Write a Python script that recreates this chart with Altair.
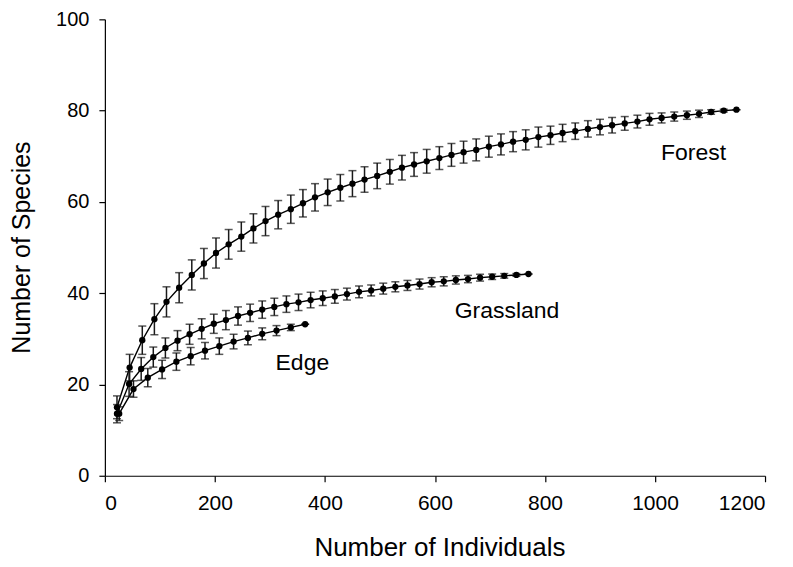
import altair as alt
import pandas as pd

# ---- data ----
forest_n = [22, 45, 68, 90, 112, 135, 158, 180, 202, 225, 248, 270, 292, 315, 338, 360, 382,
            405, 428, 450, 472, 495, 518, 540, 562, 585, 608, 630, 652, 675, 698, 720, 742,
            765, 788, 810, 832, 855, 878, 900, 922, 945, 968, 990, 1012, 1035, 1058, 1080,
            1102, 1125, 1148]
forest_s = [15.0, 23.7, 29.7, 34.3, 38.1, 41.2, 44.0, 46.5, 48.8, 50.7, 52.4, 54.2, 55.8, 57.2,
            58.4, 59.7, 61.0, 62.1, 63.1, 64.0, 64.9, 65.7, 66.6, 67.5, 68.2, 68.9, 69.6, 70.3,
            70.9, 71.4, 72.1, 72.6, 73.2, 73.6, 74.2, 74.6, 75.1, 75.5, 76.0, 76.4, 76.8, 77.2,
            77.6, 78.1, 78.4, 78.7, 79.0, 79.3, 79.7, 80.0, 80.2]
forest_e = [2.5, 2.9, 3.1, 3.4, 3.3, 3.3, 3.3, 3.3, 3.3, 3.25, 3.2, 3.2, 3.2, 3.1, 3.1, 3.0, 3.0,
            2.9, 2.9, 2.85, 2.8, 2.8, 2.7, 2.7, 2.6, 2.6, 2.5, 2.5, 2.4, 2.4, 2.3, 2.3, 2.2, 2.2,
            2.2, 2.0, 1.9, 1.8, 1.8, 1.7, 1.7, 1.5, 1.4, 1.3, 1.1, 1.0, 0.9, 0.8, 0.5, 0.3, 0.0]

grass_n = [22, 44, 66, 88, 110, 132, 154, 176, 198, 220, 242, 264, 286, 308, 330, 352, 374, 396,
           418, 440, 462, 484, 506, 528, 550, 572, 594, 616, 638, 660, 682, 704, 726, 748, 770]
grass_s = [13.6, 20.1, 23.4, 26.0, 28.0, 29.6, 31.0, 32.2, 33.3, 34.1, 35.0, 35.7, 36.4, 37.0,
           37.6, 38.0, 38.5, 38.9, 39.3, 39.8, 40.3, 40.6, 41.0, 41.4, 41.7, 42.0, 42.4, 42.6,
           42.9, 43.1, 43.4, 43.6, 43.8, 44.0, 44.2]
grass_e = [2.0, 2.7, 2.5, 2.2, 2.2, 2.2, 2.2, 2.2, 2.1, 2.1, 2.0, 1.9, 1.9, 1.9, 1.8, 1.8, 1.7,
           1.6, 1.5, 1.3, 1.3, 1.2, 1.2, 1.1, 1.1, 1.1, 1.0, 1.0, 0.9, 0.8, 0.75, 0.6, 0.5, 0.3,
           0.0]

edge_n = [26, 52, 78, 104, 130, 156, 182, 208, 234, 260, 286, 312, 338, 364]
edge_s = [13.6, 19.0, 21.5, 23.3, 25.0, 26.2, 27.4, 28.4, 29.4, 30.2, 31.1, 31.8, 32.5, 33.2]
edge_e = [1.5, 1.8, 2.0, 2.0, 1.9, 1.9, 1.8, 1.8, 1.6, 1.5, 1.3, 1.1, 0.7, 0.0]

label_text = ["Forest", "Grassland", "Edge"]
label_x = [1070, 731, 359]
label_y = [70.8, 36.1, 24.6]

x_ticks = [0, 200, 400, 600, 800, 1000, 1200]
y_ticks = [0, 20, 40, 60, 80, 100]

# ---- tables ----
rows = []
for name, ns, ss, es in [("Forest", forest_n, forest_s, forest_e),
                         ("Grassland", grass_n, grass_s, grass_e),
                         ("Edge", edge_n, edge_s, edge_e)]:
    for n, s, e in zip(ns, ss, es):
        rows.append({"site": name, "n": n, "s": s, "lo": s - e, "hi": s + e})
df = pd.DataFrame(rows)
labels = pd.DataFrame({"t": label_text, "x": label_x, "y": label_y})

FONT = "Liberation Sans"

xs = alt.Scale(domain=[0, 1200], nice=False)
ys = alt.Scale(domain=[0, 100], nice=False)

base = alt.Chart(df)

lines = base.mark_line(color="black", strokeWidth=1.4).encode(
    x=alt.X("n:Q", scale=xs,
            axis=alt.Axis(values=x_ticks, format="d", title="Number of Individuals",
                          titleX=335, titleY=80, titleBaseline="alphabetic",
                          titleAlign="center", titleFontSize=26, labelPadding=11)),
    y=alt.Y("s:Q", scale=ys,
            axis=alt.Axis(values=y_ticks, format="d", title="Number of Species",
                          titleAngle=270, titleX=-75, titleY=228,
                          titleBaseline="alphabetic", titleAlign="center",
                          titleFontSize=25, labelPadding=10, labelFontSize=20)),
    detail="site:N",
)

rules = base.mark_rule(color="#1a1a1a", strokeWidth=1.5).encode(
    x="n:Q", y="lo:Q", y2="hi:Q"
)
cap_lo = base.mark_tick(color="#111111", orient="horizontal", size=8, thickness=1.5).encode(
    x="n:Q", y="lo:Q"
)
cap_hi = base.mark_tick(color="#111111", orient="horizontal", size=8, thickness=1.5).encode(
    x="n:Q", y="hi:Q"
)
points = base.mark_circle(color="black", opacity=1, size=40).encode(
    x="n:Q", y="s:Q"
)
text = alt.Chart(labels).mark_text(font=FONT, fontSize=23, color="black",
                                   align="center", baseline="middle").encode(
    x="x:Q", y="y:Q", text="t:N"
)

chart = alt.layer(lines, rules, cap_lo, cap_hi, points, text).properties(
    width=661, height=457,
    autosize=alt.AutoSizeParams(type="none"),
    padding={"left": 97, "top": 11, "right": 20, "bottom": 90},
).configure_view(stroke=None).configure_axis(
    grid=False,
    domainColor="black", domainWidth=1.2,
    tickColor="black", tickWidth=1.2, tickSize=6,
    labelFont=FONT, labelFontSize=21, labelColor="black",
    titleFont=FONT, titleColor="black", titleFontWeight="normal",
)

chart.save("out.html", embed_options={"renderer": "svg", "actions": False})
